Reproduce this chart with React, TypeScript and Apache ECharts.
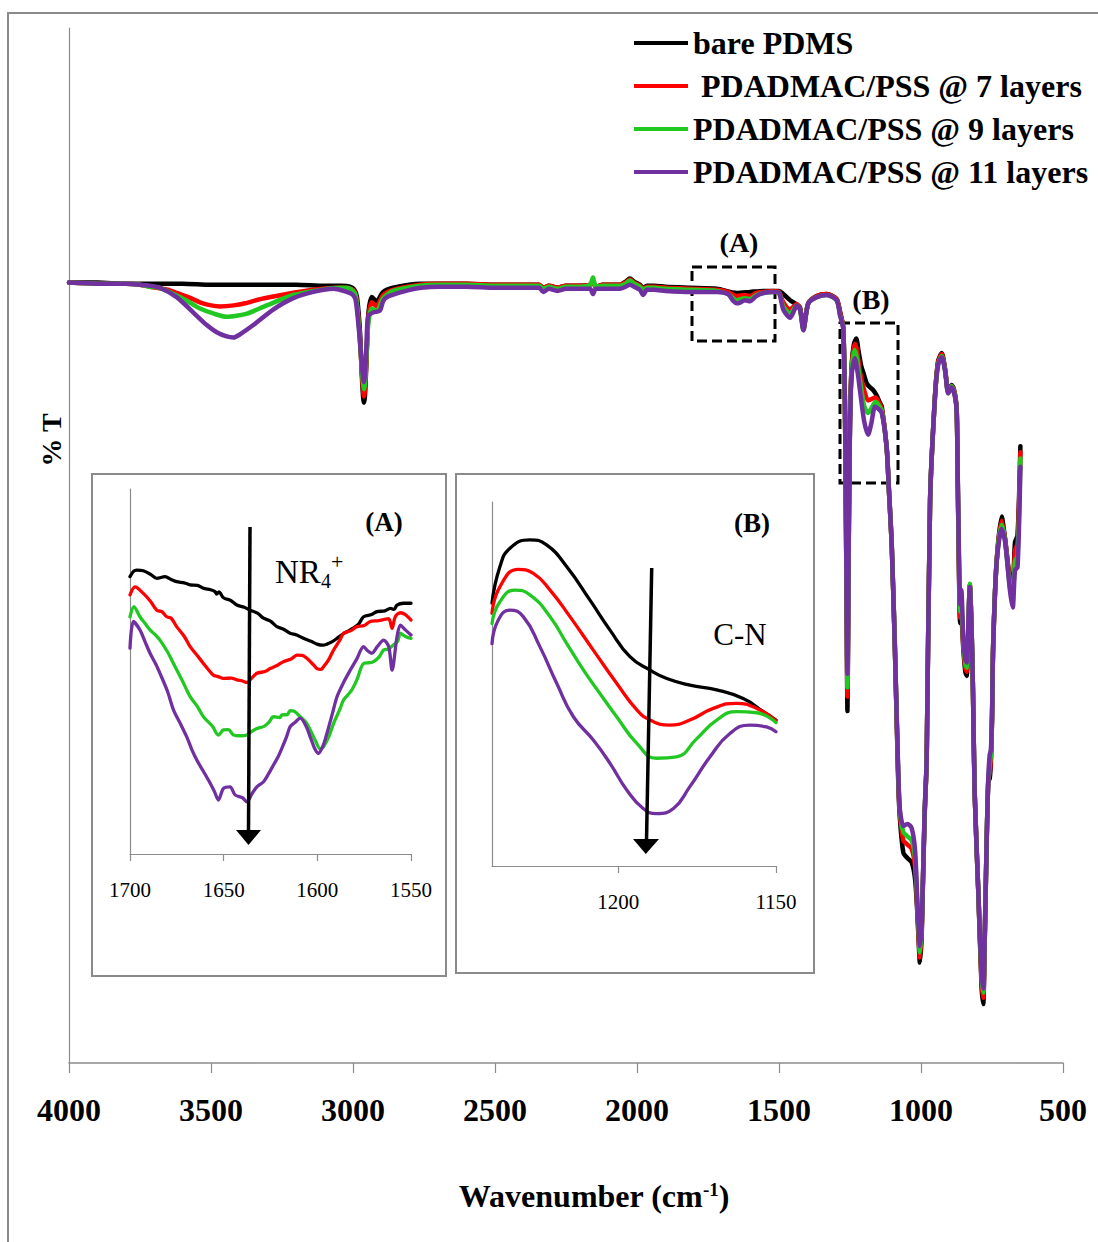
import React, { useEffect, useRef } from "react";
import * as echarts from "echarts";

type Pt = [number, number];

const seriesNames = [
  "bare PDMS",
  " PDADMAC/PSS @ 7 layers",
  "PDADMAC/PSS @ 9 layers",
  "PDADMAC/PSS @ 11 layers",
];
const seriesColors = ["#000000", "#ff0000", "#22c822", "#7030a0"];

// ---------- main spectrum (wavenumber, %T) ----------
const mainBlack: Pt[] = [
  [4000, 75.4], [3900, 75.4], [3800, 75.3], [3700, 75.3], [3600, 75.3], [3500, 75.2], [3400, 75.2], [3300, 75.2],
  [3200, 75.2], [3100, 75.1], [3040, 75.1], [3011, 75.0], [2995, 74.7], [2986, 74.0], [2975, 70.5], [2969, 66.5],
  [2964, 64.2], [2961, 63.8], [2958, 64.4], [2953, 67.5], [2946, 72.3], [2934, 74.0], [2917, 73.6], [2894, 74.5],
  [2859, 74.9], [2764, 75.3], [2700, 75.3], [2600, 75.3], [2500, 75.2], [2400, 75.2], [2345, 75.2], [2330, 74.9],
  [2310, 75.1], [2280, 74.9], [2250, 75.1], [2200, 75.1], [2165, 75.2], [2155, 75.5], [2145, 75.0], [2120, 75.2],
  [2060, 75.2], [2040, 75.5], [2025, 75.8], [2010, 75.5], [1990, 75.2], [1978, 74.9], [1965, 75.1], [1940, 75.1],
  [1900, 75.0], [1813, 74.9], [1719, 74.8], [1649, 74.4], [1602, 74.5], [1555, 74.6], [1521, 74.6], [1500, 74.6],
  [1485, 74.3], [1461, 73.7], [1438, 73.3], [1426, 73.0], [1414, 71.0], [1397, 73.4], [1367, 74.1], [1332, 74.3],
  [1297, 73.8], [1285, 72.6], [1274, 71.1], [1268, 64.0], [1264, 52.0], [1261, 40.0], [1259, 34.0], [1257, 40.0],
  [1254, 52.0], [1250, 62.0], [1244, 67.5], [1236, 69.5], [1228, 70.0], [1220, 68.8], [1210, 67.3], [1203, 66.7],
  [1190, 65.6], [1180, 65.3], [1168, 65.0], [1156, 64.5], [1145, 63.8], [1138, 63.4], [1121, 59.5], [1113, 55.4],
  [1103, 50.0], [1092, 40.2], [1080, 27.0], [1074, 23.5], [1062, 20.3], [1048, 19.8], [1033, 19.4], [1021, 17.8],
  [1013, 14.5], [1007, 11.0], [1004, 9.7], [998, 12.0], [993, 17.5], [987, 24.0], [980, 29.3], [968, 54.4],
  [951, 64.3], [940, 67.8], [927, 68.6], [915, 67.0], [904, 64.9], [892, 65.5], [880, 64.6], [874, 62.8],
  [870, 55.0], [865, 45.0], [862, 42.5], [858, 43.0], [851, 40.0], [844, 37.8], [839, 37.4], [834, 41.0],
  [828, 46.2], [822, 42.0], [817, 36.0], [811, 26.1], [798, 16.4], [787, 7.5], [781, 5.7], [775, 12.5],
  [769, 21.0], [763, 27.2], [758, 27.5], [754, 29.0], [750, 33.0], [746, 40.2], [734, 48.3], [716, 52.8],
  [704, 50.7], [687, 46.8], [677, 46.4], [669, 50.3], [660, 51.0], [650, 59.6],
];

const mainRed: Pt[] = [
  [4000, 75.4], [3900, 75.3], [3800, 75.3], [3750, 75.2], [3715, 75.0], [3650, 74.7], [3621, 74.4], [3580, 74.0],
  [3539, 73.5], [3500, 73.2], [3468, 73.1], [3420, 73.2], [3380, 73.4], [3327, 73.8], [3233, 74.3], [3140, 74.7],
  [3060, 74.9], [3022, 74.9], [3000, 74.7], [2990, 74.2], [2978, 71.0], [2969, 66.8], [2964, 64.8], [2961, 64.4],
  [2958, 65.0], [2953, 67.8], [2946, 72.0], [2934, 73.5], [2917, 73.1], [2894, 74.2], [2859, 74.7], [2764, 75.2],
  [2700, 75.3], [2600, 75.3], [2500, 75.2], [2400, 75.2], [2345, 75.2], [2330, 74.9], [2310, 75.1], [2280, 74.9],
  [2250, 75.1], [2200, 75.1], [2165, 75.2], [2155, 75.5], [2145, 75.0], [2120, 75.2], [2060, 75.2], [2040, 75.4],
  [2025, 75.7], [2010, 75.4], [1990, 75.1], [1978, 74.8], [1965, 75.0], [1940, 75.0], [1900, 74.9], [1813, 74.8],
  [1719, 74.7], [1680, 74.5], [1649, 74.1], [1620, 74.2], [1602, 74.1], [1580, 74.4], [1555, 74.5], [1521, 74.6],
  [1500, 74.5], [1485, 73.5], [1461, 72.8], [1438, 73.3], [1426, 72.9], [1414, 70.9], [1397, 73.4], [1367, 74.1],
  [1332, 74.3], [1297, 73.8], [1285, 72.5], [1274, 71.1], [1268, 64.0], [1264, 52.0], [1261, 41.0], [1259, 35.4],
  [1257, 41.0], [1254, 52.0], [1250, 62.0], [1244, 67.3], [1233, 69.5], [1225, 68.8], [1215, 66.8], [1200, 65.0],
  [1186, 64.0], [1170, 64.2], [1160, 64.3], [1150, 63.9], [1138, 63.2], [1121, 59.5], [1113, 55.4], [1103, 50.0],
  [1092, 40.2], [1080, 27.5], [1074, 24.0], [1062, 21.5], [1048, 21.1], [1033, 20.7], [1021, 19.0], [1013, 14.9],
  [1007, 11.5], [1004, 10.2], [998, 12.5], [993, 17.8], [987, 24.2], [980, 29.3], [968, 54.4], [951, 64.3],
  [940, 67.7], [927, 68.5], [915, 67.0], [904, 64.8], [892, 65.4], [880, 64.5], [874, 62.8], [870, 55.0],
  [865, 45.5], [862, 43.0], [858, 43.8], [851, 40.3], [844, 38.2], [839, 37.8], [834, 41.2], [828, 46.2],
  [822, 42.0], [817, 36.0], [811, 26.1], [798, 16.4], [787, 8.0], [781, 6.3], [775, 12.8], [769, 21.1],
  [763, 27.4], [758, 28.0], [754, 29.4], [750, 33.2], [746, 40.2], [734, 48.3], [716, 52.4], [704, 50.6],
  [687, 46.5], [677, 45.8], [669, 49.5], [660, 50.2], [650, 59.0],
];

const mainGreen: Pt[] = [
  [4000, 75.4], [3900, 75.3], [3800, 75.3], [3750, 75.2], [3715, 75.0], [3680, 74.9], [3609, 74.0], [3570, 73.4],
  [3539, 72.9], [3490, 72.4], [3445, 72.1], [3410, 72.2], [3374, 72.4], [3304, 73.2], [3210, 74.2], [3116, 74.7],
  [3050, 74.9], [3022, 74.9], [3000, 74.6], [2990, 74.1], [2978, 70.8], [2969, 67.0], [2964, 65.5], [2961, 65.1],
  [2958, 65.6], [2953, 68.0], [2946, 71.5], [2934, 72.9], [2917, 72.6], [2894, 73.9], [2859, 74.6], [2764, 75.1],
  [2700, 75.2], [2600, 75.2], [2500, 75.1], [2400, 75.1], [2345, 75.1], [2330, 74.8], [2310, 75.0], [2280, 74.8],
  [2250, 75.0], [2200, 75.0], [2165, 75.2], [2155, 75.9], [2145, 75.0], [2120, 75.1], [2060, 75.1], [2040, 75.3],
  [2025, 75.6], [2010, 75.3], [1990, 75.0], [1978, 74.7], [1965, 74.9], [1940, 74.9], [1900, 74.8], [1813, 74.7],
  [1719, 74.6], [1680, 74.3], [1649, 73.7], [1620, 73.9], [1602, 73.8], [1580, 74.2], [1555, 74.4], [1521, 74.5],
  [1500, 74.4], [1485, 73.1], [1461, 72.4], [1438, 73.2], [1426, 72.8], [1414, 70.8], [1397, 73.4], [1367, 74.0],
  [1332, 74.2], [1297, 73.7], [1285, 72.3], [1274, 71.1], [1268, 64.0], [1264, 52.0], [1261, 41.5], [1259, 36.3],
  [1257, 41.5], [1254, 52.0], [1250, 62.0], [1244, 67.0], [1233, 68.9], [1225, 68.0], [1215, 66.0], [1200, 63.5],
  [1186, 62.8], [1170, 63.5], [1160, 63.9], [1150, 63.6], [1138, 63.0], [1121, 59.5], [1113, 55.4], [1103, 50.0],
  [1092, 40.2], [1080, 27.8], [1074, 24.2], [1062, 22.3], [1048, 21.9], [1033, 21.5], [1021, 19.8], [1013, 15.3],
  [1007, 12.0], [1004, 10.7], [998, 12.8], [993, 17.9], [987, 24.3], [980, 29.3], [968, 54.4], [951, 64.3],
  [940, 67.5], [927, 68.3], [915, 66.9], [904, 64.7], [892, 65.4], [880, 64.4], [874, 62.8], [870, 55.2],
  [865, 46.2], [862, 43.6], [858, 44.6], [851, 40.6], [844, 38.6], [839, 38.2], [834, 41.5], [828, 46.3],
  [822, 42.0], [817, 36.0], [811, 26.1], [798, 16.4], [787, 8.5], [781, 6.8], [775, 13.0], [769, 21.2],
  [763, 27.5], [758, 28.8], [754, 29.8], [750, 33.3], [746, 40.2], [734, 48.3], [716, 52.0], [704, 50.5],
  [687, 46.0], [677, 45.2], [669, 48.5], [660, 49.0], [650, 58.4],
];

const mainPurple: Pt[] = [
  [4000, 75.4], [3900, 75.3], [3800, 75.3], [3750, 75.2], [3715, 75.1], [3680, 74.9], [3621, 74.0], [3562, 72.5],
  [3515, 71.3], [3480, 70.6], [3445, 70.2], [3420, 70.1], [3398, 70.4], [3351, 71.3], [3281, 72.8], [3210, 73.9],
  [3140, 74.5], [3069, 74.8], [3022, 74.5], [3000, 74.2], [2990, 73.6], [2978, 70.5], [2969, 67.5], [2964, 66.1],
  [2961, 65.8], [2958, 66.5], [2953, 69.0], [2947, 72.1], [2930, 72.5], [2905, 72.7], [2894, 73.6], [2880, 74.0],
  [2840, 74.4], [2800, 74.7], [2760, 74.9], [2700, 75.0], [2600, 75.0], [2500, 74.9], [2400, 74.9], [2345, 74.9],
  [2330, 74.5], [2310, 74.8], [2280, 74.6], [2250, 74.8], [2200, 74.8], [2165, 74.8], [2155, 74.3], [2145, 74.8],
  [2120, 74.8], [2060, 74.8], [2040, 75.0], [2025, 75.2], [2010, 75.0], [1990, 74.7], [1978, 74.2], [1965, 74.7],
  [1940, 74.7], [1900, 74.6], [1813, 74.5], [1719, 74.5], [1680, 74.3], [1660, 73.6], [1649, 73.4], [1635, 73.5],
  [1620, 73.7], [1602, 73.6], [1580, 74.1], [1555, 74.4], [1521, 74.5], [1500, 74.4], [1485, 72.8], [1461, 72.0],
  [1445, 72.8], [1438, 73.2], [1426, 72.8], [1414, 70.8], [1397, 73.4], [1367, 74.0], [1332, 74.2], [1297, 73.7],
  [1285, 72.2], [1274, 71.0], [1268, 64.0], [1264, 52.0], [1261, 42.0], [1259, 37.6], [1257, 42.0], [1254, 52.0],
  [1250, 61.5], [1244, 66.5], [1233, 68.1], [1222, 66.5], [1215, 65.0], [1200, 62.0], [1186, 60.7], [1175, 61.8],
  [1162, 63.4], [1150, 63.2], [1138, 62.8], [1121, 59.5], [1113, 55.4], [1103, 50.0], [1092, 40.2], [1080, 28.0],
  [1074, 24.4], [1062, 22.9], [1048, 23.1], [1033, 22.7], [1021, 20.6], [1013, 15.7], [1007, 12.6], [1004, 11.3],
  [998, 13.1], [993, 18.0], [987, 24.4], [980, 29.3], [968, 54.4], [951, 64.3], [940, 67.4], [927, 68.2],
  [915, 66.8], [904, 64.7], [892, 65.3], [880, 64.3], [874, 62.8], [870, 55.5], [865, 47.0], [862, 44.3],
  [858, 45.7], [851, 41.0], [844, 39.0], [839, 38.7], [834, 41.8], [828, 46.0], [822, 42.0], [817, 36.0],
  [811, 26.1], [798, 16.4], [787, 8.9], [781, 7.2], [775, 13.1], [769, 21.3], [763, 27.6], [758, 29.8],
  [754, 30.2], [750, 33.5], [746, 40.2], [734, 48.3], [716, 51.6], [704, 50.4], [687, 45.7], [677, 44.0],
  [669, 47.6], [660, 47.9], [650, 57.6],
];

// ---------- inset (A): 1700-1550 cm-1 ----------
const insetABlack: Pt[] = [
  [1700, 76.0], [1698, 77.5], [1696.4, 77.8], [1692.9, 77.6], [1689, 76.6], [1685.7, 75.5], [1681.3, 76.0],
  [1678, 75.2], [1675.1, 74.6], [1671, 74.3], [1667.9, 73.7], [1664, 73.6], [1660.8, 72.8], [1657, 72.4],
  [1654.6, 71.9], [1653.7, 71.2], [1652.5, 71.8], [1650.1, 70.2], [1646, 69.4], [1643, 68.2], [1639, 67.6],
  [1635.9, 66.8], [1632, 66.0], [1628.7, 64.6], [1625, 63.8], [1621.6, 62.3], [1618, 61.6], [1614.5, 60.5],
  [1611, 60.0], [1607.4, 59.1], [1603, 58.2], [1600.2, 57.5], [1597, 57.2], [1594.9, 57.5], [1592, 58.2],
  [1589.5, 59.1], [1586, 60.4], [1582.4, 61.4], [1578, 63.0], [1575.3, 65.0], [1571, 65.6], [1568.2, 66.4],
  [1564, 66.6], [1561.0, 67.3], [1559, 67.0], [1557.5, 68.2], [1553.9, 68.7], [1550, 68.7],
];

const insetARed: Pt[] = [
  [1700, 71.0], [1697.3, 73.2], [1692.9, 71.4], [1689, 69.2], [1685.7, 66.8], [1683, 66.4], [1680.4, 65.0],
  [1678, 64.6], [1675.1, 62.3], [1671, 59.6], [1667.9, 56.8], [1664, 54.3], [1660.8, 52.2], [1658, 50.4],
  [1655.5, 49.0], [1653, 48.6], [1650.1, 48.1], [1646, 48.2], [1643, 47.7], [1640, 47.4], [1637.6, 47.0],
  [1635, 48.2], [1632.3, 49.5], [1628, 50.0], [1625.2, 50.8], [1621, 51.8], [1618.1, 52.7], [1614, 53.4],
  [1610.9, 54.5], [1608, 54.4], [1605.6, 53.6], [1602, 51.8], [1600.2, 50.8], [1598, 50.6], [1596.7, 51.3],
  [1594, 53.2], [1591.3, 55.9], [1588, 58.6], [1586.0, 60.5], [1582, 61.2], [1578.9, 62.3], [1575, 62.6],
  [1571.7, 63.7], [1568, 63.9], [1564.6, 64.2], [1561.9, 64.5], [1560.1, 61.8], [1558.4, 65.0], [1555.7, 66.1],
  [1553, 65.6], [1550, 64.1],
];

const insetAGreen: Pt[] = [
  [1700, 65.0], [1697.9, 67.8], [1694.7, 65.0], [1692, 63.2], [1689.3, 61.4], [1686, 59.8], [1684.0, 58.6],
  [1680, 55.4], [1676.8, 52.2], [1672, 47.4], [1667.9, 43.1], [1664, 40.4], [1660.8, 37.6], [1656, 35.0],
  [1652.8, 32.6], [1650.1, 34.0], [1647.5, 34.1], [1644.8, 32.6], [1641, 32.4], [1637.6, 32.6], [1635, 33.6],
  [1632.3, 34.4], [1628.7, 34.9], [1626, 36.0], [1623.4, 37.6], [1620, 37.4], [1618.9, 38.1], [1616, 38.2],
  [1614.5, 39.3], [1612, 39.0], [1609.1, 37.6], [1606, 36.0], [1603.8, 34.0], [1601, 31.0], [1598.5, 28.8],
  [1596.7, 29.4], [1594, 32.0], [1591.3, 35.8], [1588, 39.6], [1586.0, 42.2], [1582, 44.6], [1578.9, 47.7],
  [1575.3, 52.2], [1572, 52.4], [1570.0, 52.7], [1567, 54.0], [1564.6, 55.9], [1562, 56.2], [1559.3, 57.3],
  [1557, 58.4], [1555.7, 60.5], [1553, 59.6], [1550, 59.1],
];

const insetAPurple: Pt[] = [
  [1700, 56.4], [1698.2, 63.7], [1694.7, 61.4], [1692, 58.2], [1689.3, 55.0], [1686, 51.8], [1684.0, 49.5],
  [1680, 44.6], [1676.8, 39.5], [1673, 35.6], [1669.7, 32.1], [1667, 28.6], [1664.4, 25.8], [1661, 22.8],
  [1657.2, 19.4], [1655, 17.2], [1652.8, 14.8], [1650.1, 18.0], [1646.6, 18.4], [1643.9, 16.2], [1640, 15.4],
  [1637.6, 14.3], [1635, 16.4], [1632.3, 18.4], [1628.7, 19.8], [1626, 22.0], [1623.4, 24.4], [1621, 26.6],
  [1618.9, 29.0], [1616.5, 32.0], [1614.5, 34.9], [1612, 36.0], [1609.1, 37.2], [1606, 35.0], [1603.8, 32.1],
  [1601.5, 29.0], [1599.4, 27.6], [1597, 29.6], [1594.9, 33.0], [1592, 38.4], [1589.5, 43.1], [1586, 47.0],
  [1582.4, 50.4], [1579, 53.4], [1575.3, 56.8], [1573, 55.6], [1570.9, 55.0], [1568, 56.8], [1564.6, 58.6],
  [1561.9, 56.8], [1560.1, 50.4], [1557.5, 59.4], [1555.7, 62.7], [1553, 61.4], [1550, 60.0],
];

// ---------- inset (B): 1240-1150 cm-1 ----------
const insetBBlack: Pt[] = [
  [1240, 72.2], [1237.5, 82.2], [1234.3, 87.3], [1228, 89.6], [1222.7, 88.2], [1216.3, 82.2], [1209, 73.1],
  [1202.6, 64.8], [1196.3, 57.5], [1189.9, 53.8], [1184.6, 51.5], [1177.3, 49.7], [1168.8, 48.4], [1160.4, 46.0],
  [1154, 42.4], [1150, 40.1],
];

const insetBRed: Pt[] = [
  [1240, 69.4], [1237.5, 76.7], [1231.7, 81.5], [1226.9, 80.4], [1221.6, 75.8], [1215.3, 68.5], [1207.9, 59.3],
  [1200.5, 50.2], [1194.1, 42.9], [1189.9, 40.1], [1183.6, 38.7], [1177.3, 40.1], [1169.9, 43.3], [1162.5, 44.7],
  [1156.1, 43.3], [1150, 39.9],
];

const insetBGreen: Pt[] = [
  [1240, 66.6], [1237.5, 72.6], [1232.7, 75.8], [1228, 74.5], [1221.6, 68.5], [1216.3, 61.1], [1211, 53.8],
  [1205.8, 47.4], [1200.5, 41.0], [1194.1, 33.7], [1187.8, 29.6], [1181.5, 30.0], [1175.1, 35.0], [1168.8, 40.1],
  [1162.5, 42.4], [1156.1, 42.1], [1150, 39.4],
];

const insetBPurple: Pt[] = [
  [1240, 61.1], [1238, 67.6], [1234.3, 70.3], [1230.1, 68.5], [1224.8, 60.2], [1219.5, 50.2], [1214.2, 41.0],
  [1207.9, 34.6], [1202.6, 28.2], [1197.3, 20.9], [1192.1, 15.8], [1187.8, 14.4], [1182.5, 15.8], [1177.3, 21.8],
  [1170.9, 30.0], [1164.6, 36.4], [1158.2, 38.7], [1153, 38.2], [1150, 36.9],
];

const mainTickLabels = [4000, 3500, 3000, 2500, 2000, 1500, 1000, 500];
const insetATicks = [1700, 1650, 1600, 1550];
const insetBTicks = [1200, 1150];

const SERIF = "Liberation Serif";
const AXIS_GRAY = "#8c8c8c";

export default function App() {
  const ref = useRef<HTMLDivElement>(null);

  useEffect(() => {
    document.body.style.margin = "0";
    if (!ref.current) return;
    const chart = echarts.init(ref.current, undefined, { renderer: "svg" });

    const groups = [
      { data: [mainBlack, mainRed, mainGreen, mainPurple], axis: 0, width: 4.5, smooth: 0.25 },
      { data: [insetABlack, insetARed, insetAGreen, insetAPurple], axis: 1, width: 3.3, smooth: 0.3 },
      { data: [insetBBlack, insetBRed, insetBGreen, insetBPurple], axis: 2, width: 3.3, smooth: 0.5 },
    ];
    const series: any[] = [];
    groups.forEach((g) => {
      g.data.forEach((d, i) => {
        series.push({
          type: "line",
          name: seriesNames[i],
          xAxisIndex: g.axis,
          yAxisIndex: g.axis,
          data: d,
          showSymbol: false,
          symbol: "none",
          smooth: g.smooth,
          silent: true,
          emphasis: { disabled: true },
          lineStyle: { color: seriesColors[i], width: g.width, cap: "round", join: "round" },
          itemStyle: { color: seriesColors[i] },
        });
      });
    });

    const insetX = (idx: number, min: number, max: number, ticks: number[], margin: number) => ({
      gridIndex: idx,
      type: "value",
      min,
      max,
      interval: 50,
      inverse: true,
      axisLine: { show: true, lineStyle: { color: AXIS_GRAY, width: 1.2 } },
      axisTick: { show: true, length: 7, inside: false, customValues: ticks, lineStyle: { color: AXIS_GRAY, width: 1.2 } },
      axisLabel: {
        show: true,
        customValues: ticks,
        margin,
        fontFamily: SERIF,
        fontSize: 21,
        color: "#000",
        formatter: (v: number) => (ticks.indexOf(v) >= 0 ? String(v) : ""),
      },
      splitLine: { show: false },
    });
    const hiddenY = (idx: number) => ({
      gridIndex: idx,
      type: "value",
      min: 0,
      max: 100,
      axisLine: { show: true, lineStyle: { color: AXIS_GRAY, width: 1.2 } },
      axisTick: { show: false },
      axisLabel: { show: false },
      splitLine: { show: false },
    });

    const text = (x: number, y: number, t: string, size: number, bold: boolean, extra: any = {}) => ({
      type: "text",
      x,
      y,
      silent: true,
      z: 100,
      ...extra,
      style: {
        text: t,
        fontFamily: SERIF,
        fontSize: size,
        fontWeight: bold ? "bold" : "normal",
        fill: "#000",
        textAlign: extra.align || "center",
        verticalAlign: "middle",
      },
    });

    const option: any = {
      animation: false,
      backgroundColor: "#ffffff",
      grid: [
        { left: 69, top: 28, width: 994, height: 1035 },
        { left: 130, top: 489, width: 281, height: 365 },
        { left: 492, top: 502, width: 284, height: 364 },
      ],
      xAxis: [
        {
          gridIndex: 0,
          type: "value",
          min: 500,
          max: 4000,
          interval: 500,
          inverse: true,
          axisLine: { show: true, lineStyle: { color: AXIS_GRAY, width: 1.5 } },
          axisTick: { show: true, length: 10, lineStyle: { color: AXIS_GRAY, width: 1.2 } },
          axisLabel: {
            show: true,
            margin: 31,
            fontFamily: SERIF,
            fontWeight: "bold",
            fontSize: 32,
            color: "#000",
            formatter: (v: number) => (mainTickLabels.indexOf(v) >= 0 ? String(v) : ""),
          },
          splitLine: { show: false },
        },
        insetX(1, 1550, 1700, insetATicks, 25),
        insetX(2, 1150, 1240, insetBTicks, 25),
      ],
      yAxis: [hiddenY(0), hiddenY(1), hiddenY(2)],
      legend: {
        data: seriesNames,
        orient: "vertical",
        left: 629,
        top: 22,
        itemWidth: 54,
        itemHeight: 4,
        itemGap: 11,
        icon: "rect",
        selectedMode: false,
        textStyle: { fontFamily: SERIF, fontWeight: "bold", fontSize: 32, color: "#000" },
      },
      series,
      graphic: [
        // outer frame
        { type: "rect", silent: true, shape: { x: 8, y: 13, width: 1200, height: 1300 }, style: { fill: "none", stroke: "#8a8a8a", lineWidth: 2 } },
        // axis titles
        text(51, 440, "% T", 28, true, { rotation: Math.PI / 2 }),
        {
          type: "text",
          x: 594,
          y: 1196,
          silent: true,
          style: {
            text: "{a|Wavenumber (cm}{s|-1}{a|)}",
            textAlign: "center",
            verticalAlign: "middle",
            fill: "#000",
            rich: {
              a: { fontFamily: SERIF, fontWeight: "bold", fontSize: 32, lineHeight: 40, verticalAlign: "middle" },
              s: { fontFamily: SERIF, fontWeight: "bold", fontSize: 19, lineHeight: 19, verticalAlign: "top", padding: [4, 0, 0, 0] },
            },
          },
        },
        // dashed selection boxes on the main spectrum
        { type: "rect", silent: true, shape: { x: 692, y: 267, width: 83, height: 74 }, style: { fill: "none", stroke: "#000", lineWidth: 3, lineDash: [10, 5] } },
        { type: "rect", silent: true, shape: { x: 840, y: 323, width: 58, height: 160 }, style: { fill: "none", stroke: "#000", lineWidth: 3, lineDash: [10, 5] } },
        text(739, 242, "(A)", 28, true),
        text(871, 299, "(B)", 28, true),
        // inset frames
        { type: "rect", silent: true, shape: { x: 92, y: 474, width: 354, height: 502 }, style: { fill: "none", stroke: "#8a8a8a", lineWidth: 2 } },
        { type: "rect", silent: true, shape: { x: 456, y: 474, width: 358, height: 499 }, style: { fill: "none", stroke: "#8a8a8a", lineWidth: 2 } },
        // inset labels
        text(384, 522, "(A)", 27, true),
        text(752, 523, "(B)", 27, true),
        text(275, 572, "NR", 33, false, { align: "left" }),
        text(321, 581, "4", 20, false, { align: "left" }),
        text(331, 561, "+", 22, false, { align: "left" }),
        text(740, 634, "C-N", 31, false),
        // arrows
        { type: "line", silent: true, z: 100, shape: { x1: 250, y1: 527, x2: 248.5, y2: 833 }, style: { stroke: "#000", lineWidth: 3.5 } },
        { type: "polygon", silent: true, z: 100, shape: { points: [[236, 830], [261, 830], [248.5, 845]] }, style: { fill: "#000" } },
        { type: "line", silent: true, z: 100, shape: { x1: 651.7, y1: 568, x2: 646.5, y2: 841 }, style: { stroke: "#000", lineWidth: 3.5 } },
        { type: "polygon", silent: true, z: 100, shape: { points: [[633, 839], [659, 839], [645.8, 854]] }, style: { fill: "#000" } },
      ],
    };

    chart.setOption(option);
    return () => {
      chart.dispose();
    };
  }, []);

  return <div ref={ref} style={{ width: 1098, height: 1242, background: "#fff" }} />;
}
